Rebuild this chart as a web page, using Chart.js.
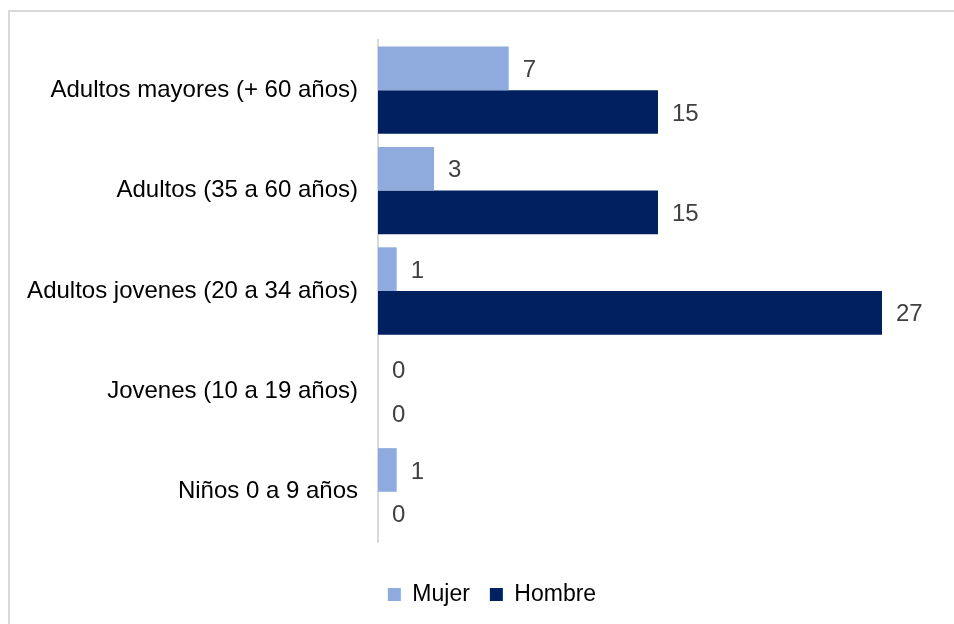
<!DOCTYPE html>
<html>
<head>
<meta charset="utf-8">
<script src="https://cdn.jsdelivr.net/npm/chart.js@4.4.1/dist/chart.umd.min.js"></script>
<style>
  html, body { margin: 0; padding: 0; background: #fff; overflow: hidden; }
  #frame { position: absolute; left: 8px; top: 10px; width: 1200px; height: 1000px; border: 2px solid #d9d9d9; box-sizing: border-box; }
  #wrap { position: absolute; left: 0; top: 0; width: 954px; height: 624px; }
</style>
</head>
<body>
<div id="frame"></div>
<div id="wrap"><canvas id="c" width="954" height="624"></canvas></div>
<script>
const categories = [
  "Adultos mayores (+ 60 años)",
  "Adultos (35 a 60 años)",
  "Adultos jovenes (20 a 34 años)",
  "Jovenes (10 a 19 años)",
  "Niños 0 a 9 años"
];
const mujer = [7, 3, 1, 0, 1];
const hombre = [15, 15, 27, 0, 0];
const seriesNames = ["Mujer", "Hombre"];
const xMax = 30;

const FONT = "'Liberation Sans', Arial, Helvetica, sans-serif";

const valueLabels = {
  id: 'valueLabels',
  afterDatasetsDraw(chart) {
    const ctx = chart.ctx;
    ctx.save();
    ctx.font = "24px " + FONT;
    ctx.fillStyle = "#404040";
    ctx.textAlign = "left";
    ctx.textBaseline = "middle";
    chart.data.datasets.forEach((ds, i) => {
      const meta = chart.getDatasetMeta(i);
      meta.data.forEach((bar, j) => {
        ctx.fillText(String(ds.data[j]), bar.x + 14, bar.y + 2);
      });
    });
    ctx.restore();
  }
};

// centre the legend under the plot area rather than the whole canvas
const legendShift = {
  id: 'legendShift',
  afterLayout(chart) {
    const lg = chart.legend;
    if (lg) { lg.left += 23; lg.right += 23; }
  }
};

new Chart(document.getElementById('c'), {
  type: 'bar',
  data: {
    labels: categories,
    datasets: [
      { label: seriesNames[0], data: mujer, backgroundColor: '#8FAADC', categoryPercentage: 0.87, barPercentage: 1.0 },
      { label: seriesNames[1], data: hombre, backgroundColor: '#002060', categoryPercentage: 0.87, barPercentage: 1.0 }
    ]
  },
  options: {
    indexAxis: 'y',
    responsive: false,
    animation: false,
    layout: { padding: { left: 0, right: 16, top: 40, bottom: 8 } },
    scales: {
      x: {
        display: true, min: 0, max: xMax,
        afterFit(s) { s.height = 21; },
        grid: { display: false, drawTicks: false },
        border: { display: false },
        ticks: { display: false }
      },
      y: {
        afterFit(s) { s.width = 378; },
        grid: { display: false, drawTicks: false },
        border: { display: true, color: '#d9d9d9', width: 2 },
        ticks: { color: '#000000', font: { family: FONT, size: 24 }, padding: 20 }
      }
    },
    plugins: {
      legend: {
        position: 'bottom',
        labels: {
          boxWidth: 13, boxHeight: 13, color: '#000000',
          font: { family: FONT, size: 23 }, padding: 20
        }
      },
      tooltip: { enabled: false }
    }
  },
  plugins: [valueLabels, legendShift]
});
</script>
</body>
</html>
